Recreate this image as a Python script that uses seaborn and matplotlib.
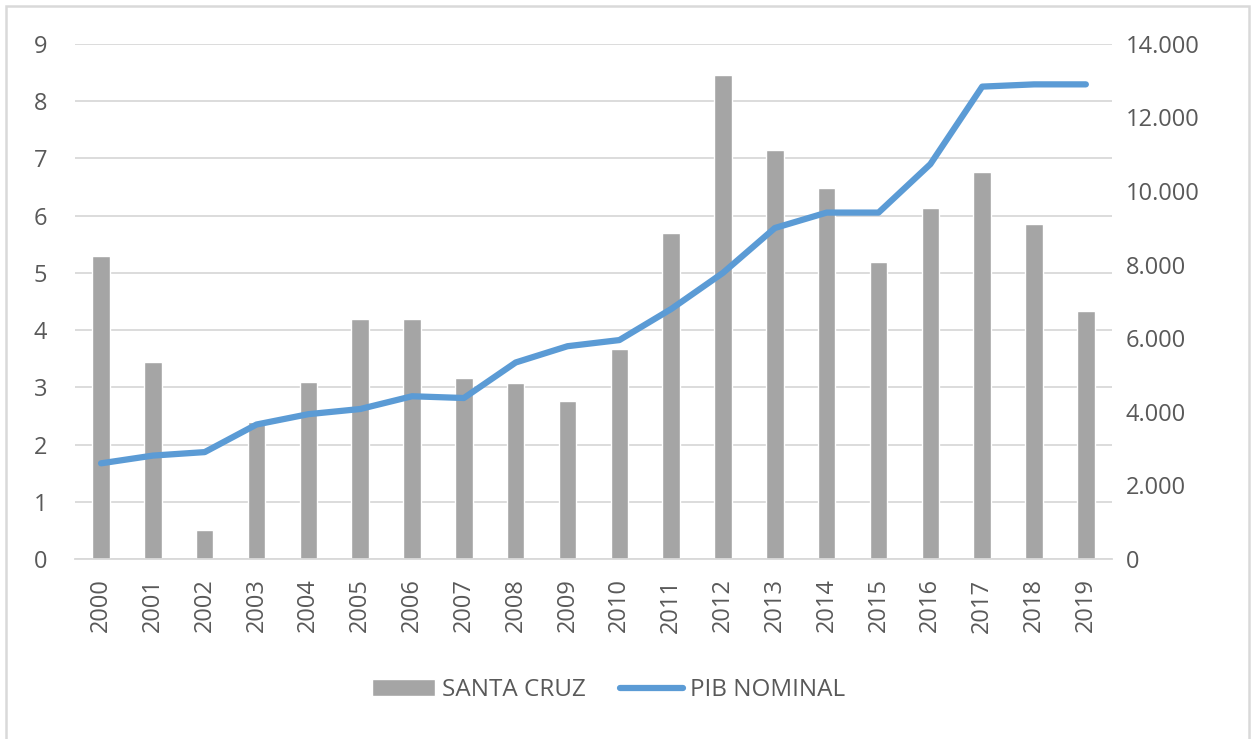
import numpy as np
import pandas as pd
import seaborn as sns
import matplotlib.pyplot as plt
from matplotlib.patches import Rectangle
from matplotlib.ticker import FuncFormatter

years = [str(y) for y in range(2000, 2020)]
santa_cruz = [5.30, 3.45, 0.51, 2.40, 3.10, 4.19, 4.19, 3.16, 3.07, 2.76,
              3.67, 5.69, 8.45, 7.14, 6.48, 5.19, 6.14, 6.77, 5.85, 4.34]
pib_nominal = [2600, 2810, 2905, 3655, 3936, 4076, 4423, 4375, 5341, 5783,
               5950, 6794, 7778, 8996, 9415, 9415, 10732, 12839, 12900, 12900]

bar_color = "#A5A5A5"
line_color = "#5B9BD5"
grid_color = "#D9D9D9"
text_color = "#595959"

sns.set_style("white")
plt.rcParams['font.family'] = ['Open Sans', 'DejaVu Sans']

df = pd.DataFrame({"year": years, "santa_cruz": santa_cruz, "pib": pib_nominal})

fig = plt.figure(figsize=(12.52, 7.39), dpi=100)
ax = fig.add_axes([0.060, 0.2436, 0.828, 0.697])

sns.barplot(data=df, x="year", y="santa_cruz", color=bar_color, width=0.336,
            saturation=1, ax=ax, label="SANTA CRUZ", zorder=2)
if ax.get_legend() is not None:
    ax.get_legend().remove()
ax.set_ylim(0, 9)
ax.set_yticks(range(0, 10))
ax.grid(axis="y", color=grid_color, linewidth=1.3, zorder=0)
ax.set_axisbelow(True)
for side in ["top", "right", "left"]:
    ax.spines[side].set_visible(False)
ax.spines["bottom"].set_color(grid_color)
ax.spines["bottom"].set_linewidth(1.3)
ax.set_xlabel("")
ax.set_ylabel("")
ax.tick_params(axis="y", length=0, pad=20, labelsize=17, labelcolor=text_color)
ax.tick_params(axis="x", length=0, pad=14, labelsize=17, labelcolor=text_color,
               labelrotation=90)

ax2 = ax.twinx()
sns.lineplot(x=np.arange(len(years)), y=df["pib"], color=line_color,
             linewidth=4.5, ax=ax2, label="PIB NOMINAL", legend=False,
             solid_capstyle="round")
if ax2.get_legend() is not None:
    ax2.get_legend().remove()
ax2.set_ylim(0, 14000)
ax2.set_yticks(range(0, 14001, 2000))
ax2.yaxis.set_major_formatter(FuncFormatter(
    lambda v, p: "0" if v == 0 else f"{int(v):,}".replace(",", ".")))
ax2.set_ylabel("")
for side in ["top", "right", "left", "bottom"]:
    ax2.spines[side].set_visible(False)
ax2.tick_params(axis="y", length=0, pad=10, labelsize=17, labelcolor=text_color)
ax.set_xlim(-0.5, len(years) - 0.5)

h1, l1 = ax.get_legend_handles_labels()
h2, l2 = ax2.get_legend_handles_labels()
fig.legend(h1 + h2, l1 + l2, loc="center", bbox_to_anchor=(0.486, 0.066),
           ncol=2, frameon=False, fontsize=17.5, labelcolor=text_color,
           handlelength=2.6, handletextpad=0.3, columnspacing=1.4)

# outer chart frame
fig.patches.append(Rectangle((6 / 1252, -0.05), 1243 / 1252, 1.05 - 6 / 739,
                             transform=fig.transFigure, fill=False,
                             edgecolor=grid_color, linewidth=1.8))

fig.savefig("out.png", dpi=100, facecolor="white")
